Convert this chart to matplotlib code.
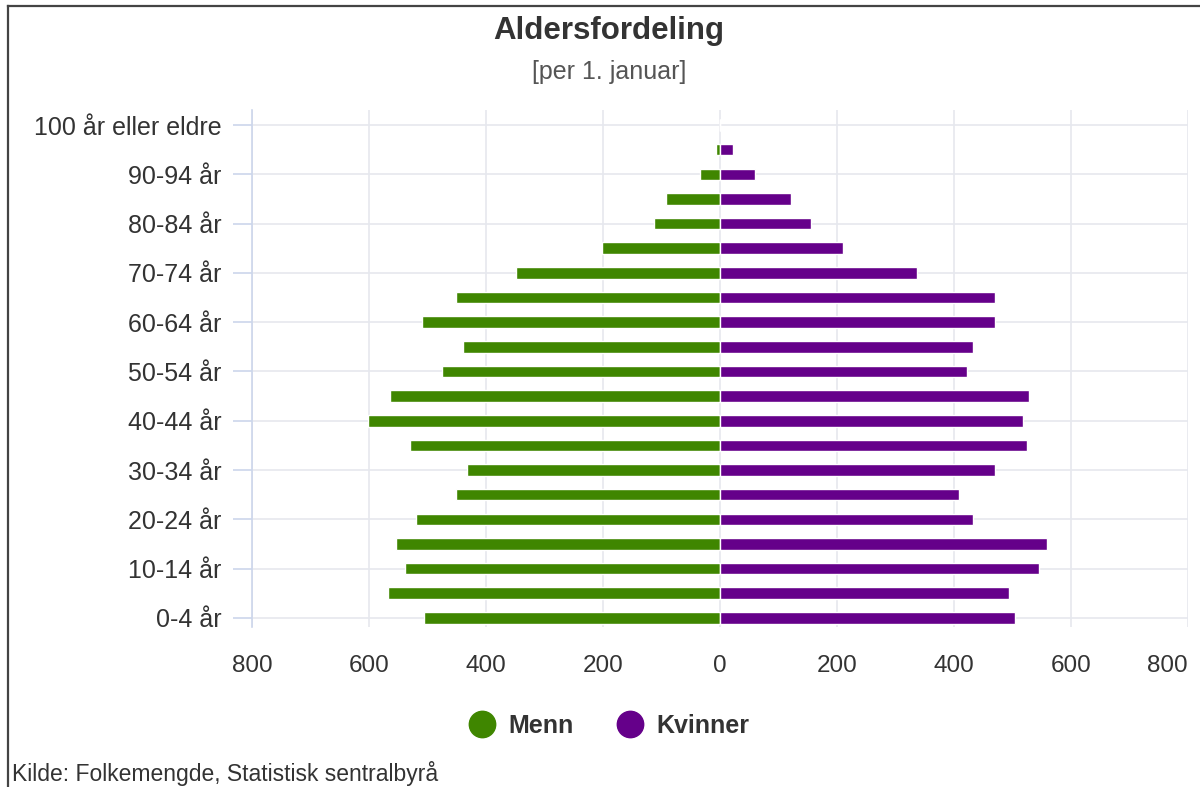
import matplotlib
matplotlib.use("Agg")
import matplotlib.pyplot as plt
from matplotlib.lines import Line2D
from matplotlib.ticker import FuncFormatter
from matplotlib.transforms import ScaledTranslation

plt.rcParams['font.family'] = ['Liberation Sans', 'DejaVu Sans']

categories = ["0-4 år", "5-9 år", "10-14 år", "15-19 år", "20-24 år", "25-29 år",
              "30-34 år", "35-39 år", "40-44 år", "45-49 år", "50-54 år", "55-59 år",
              "60-64 år", "65-69 år", "70-74 år", "75-79 år", "80-84 år", "85-89 år",
              "90-94 år", "95-99 år", "100 år eller eldre"]
menn = [506, 568, 538, 554, 520, 452, 432, 530, 602, 564, 476, 439,
        510, 452, 348, 201, 113, 93, 35, 7, 0]
kvinner = [504, 494, 545, 559, 432, 409, 470, 525, 518, 529, 423, 432,
           470, 470, 337, 211, 156, 122, 60, 22, 0]
x_ticks = [-800, -600, -400, -200, 0, 200, 400, 600, 800]

title = "Aldersfordeling"
subtitle = "[per 1. januar]"
source = "Kilde: Folkemengde, Statistisk sentralbyrå"

GREEN = "#3f8600"
PURPLE = "#65008a"

W, H = 1200, 787
fig = plt.figure(figsize=(W / 100, H / 100), dpi=100)
ax = fig.add_axes([252 / W, 1 - 627 / H, (1188 - 252) / W, (627 - 110) / H])

y = list(range(len(categories)))
ax.barh(y, [-v for v in menn], height=0.47, color=GREEN, edgecolor="white", linewidth=1.0, zorder=3)
ax.barh(y, kvinner, height=0.47, color=PURPLE, edgecolor="white", linewidth=1.0, zorder=3)

ax.set_xlim(-800, 800)
ax.set_ylim(-0.37, 20.61)
ax.set_xticks(x_ticks)
ax.xaxis.set_major_formatter(FuncFormatter(lambda v, p: f"{abs(int(v))}"))
ax.set_yticks(y[::2])
ax.set_yticklabels(categories[::2])

ax.grid(True, axis="both", color="#e6e8ee", linewidth=1.2, zorder=0)
for s in ["top", "right", "bottom"]:
    ax.spines[s].set_visible(False)
ax.spines["left"].set_color("#ccd6eb")
ax.spines["left"].set_linewidth(1.2)
ax.spines["left"].set_zorder(4)

ax.tick_params(axis="y", length=14, width=1.2, color="#ccd6eb", pad=8, labelsize=18, labelcolor="#333333")
ax.tick_params(axis="x", length=0, pad=20, labelsize=17.5, labelcolor="#333333")
labels = ax.get_xticklabels()
labels[-1].set_horizontalalignment("right")
labels[-1].set_transform(labels[-1].get_transform() + ScaledTranslation(0, 0, fig.dpi_scale_trans))

fig.text(609 / W, 1 - 31 / H, title, ha="center", va="center", fontsize=22.5,
         fontweight="bold", color="#333333")
fig.text(609 / W, 1 - 72 / H, subtitle, ha="center", va="center", fontsize=18, color="#555555")
fig.text(12 / W, 1 - 773 / H, source, ha="left", va="center", fontsize=16.5, color="#333333")

handles = [Line2D([], [], marker="o", linestyle="none", markersize=19, color=GREEN),
           Line2D([], [], marker="o", linestyle="none", markersize=19, color=PURPLE)]
leg = fig.legend(handles, ["Menn", "Kvinner"], loc="center", bbox_to_anchor=(603 / W, 1 - 726 / H),
                 ncol=2, frameon=False, handletextpad=0.05, columnspacing=1.25,
                 prop={"size": 18, "weight": "bold"})
for t in leg.get_texts():
    t.set_color("#333333")

# outer frame
fig.add_artist(Line2D([8 / W, 8 / W], [0, 1 - 6 / H], color="#444444", linewidth=1.6))
fig.add_artist(Line2D([8 / W, 1], [1 - 6 / H, 1 - 6 / H], color="#444444", linewidth=1.6))

fig.savefig("out.png", dpi=100, facecolor="white")
